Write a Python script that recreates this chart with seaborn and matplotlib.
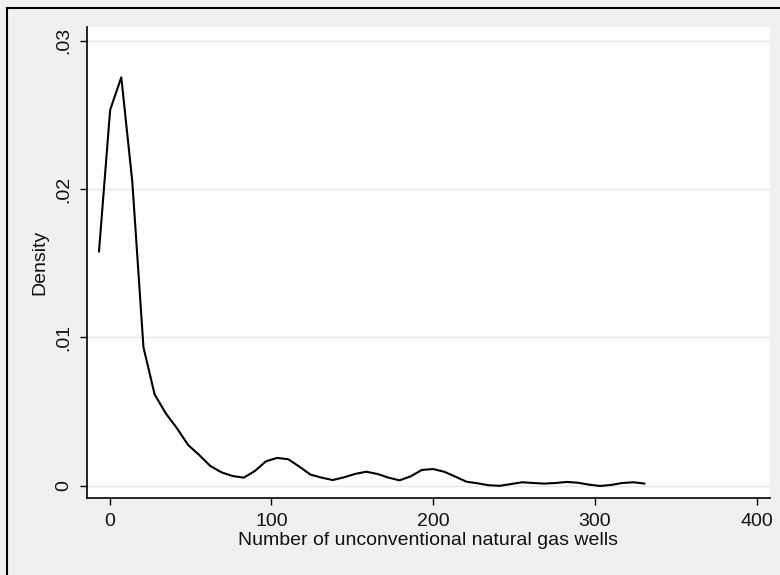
import numpy as np
import pandas as pd
import seaborn as sns
import matplotlib.pyplot as plt
from matplotlib.patches import Rectangle

# kernel density estimate (50 evaluation points)
wells = [-6.6, 0.3, 7.2, 14.0, 20.9, 27.8, 34.7, 41.6, 48.5, 55.3,
         62.2, 69.1, 76.0, 82.9, 89.8, 96.6, 103.5, 110.4, 117.3, 124.2,
         131.1, 137.9, 144.8, 151.7, 158.6, 165.5, 172.4, 179.2, 186.1, 193.0,
         199.9, 206.8, 213.7, 220.5, 227.4, 234.3, 241.2, 248.1, 255.0, 261.8,
         268.7, 275.6, 282.5, 289.4, 296.3, 303.1, 310.0, 316.9, 323.8, 330.7]
density = [0.01578, 0.02532, 0.02752, 0.02049, 0.00934, 0.00617, 0.00489, 0.00389, 0.00276, 0.00209,
           0.00135, 0.00092, 0.00067, 0.00056, 0.00101, 0.00166, 0.00189, 0.00180, 0.00130, 0.00076,
           0.00056, 0.00040, 0.00058, 0.00081, 0.00096, 0.00081, 0.00056, 0.00038, 0.00065, 0.00108,
           0.00114, 0.00096, 0.00063, 0.00029, 0.00018, 0.00005, 0.00001, 0.00013, 0.00025, 0.00020,
           0.00016, 0.00020, 0.00027, 0.00022, 0.00009, 0.00000, 0.00007, 0.00020, 0.00025, 0.00016]

xticks = [0, 100, 200, 300, 400]
yticks = [0, 0.01, 0.02, 0.03]
ytick_labels = ["0", ".01", ".02", ".03"]

df = pd.DataFrame({"wells": wells, "density": density})

sns.set_theme(style="white")
plt.rcParams["font.family"] = ["Liberation Sans", "DejaVu Sans"]

bg = "#f0f0f0"
fig = plt.figure(figsize=(7.8, 5.75), dpi=100, facecolor=bg)
ax = fig.add_axes([87 / 780, 77 / 575, 683 / 780, 471 / 575])
ax.set_facecolor("white")

# outer frame (only top/left edges show in the reference)
fig.patches.append(Rectangle((7 / 780, -0.02), 1.02, (568 + 11) / 575,
                             transform=fig.transFigure, fill=False,
                             edgecolor="black", linewidth=1.5))

for y in yticks:
    ax.axhline(y, color="#e6e6e6", linewidth=1.0, zorder=0)

sns.lineplot(data=df, x="wells", y="density", color="black", linewidth=1.5, ax=ax)

ax.set_xlim(-14.0, 408.2)
ax.set_ylim(-0.00081, 0.03091)
ax.set_xticks(xticks)
ax.set_xticklabels([str(t) for t in xticks])
ax.set_yticks(yticks)
ax.set_yticklabels(ytick_labels, rotation=90, va="center")

ax.tick_params(axis="both", which="major", direction="out", length=5, width=1,
               color="black", labelsize=14, labelcolor="#111111",
               left=True, bottom=True)
ax.tick_params(axis="y", pad=5.5)
ax.tick_params(axis="x", pad=5.5)

for side in ["top", "right"]:
    ax.spines[side].set_visible(False)
for side in ["left", "bottom"]:
    ax.spines[side].set_color("black")
    ax.spines[side].set_linewidth(1.2)

ax.set_xlabel("Number of unconventional natural gas wells", fontsize=14,
              color="#111111", labelpad=2)
ax.set_ylabel("Density", fontsize=14, color="#111111", labelpad=5)

fig.savefig("out.png", dpi=100, facecolor=bg)
